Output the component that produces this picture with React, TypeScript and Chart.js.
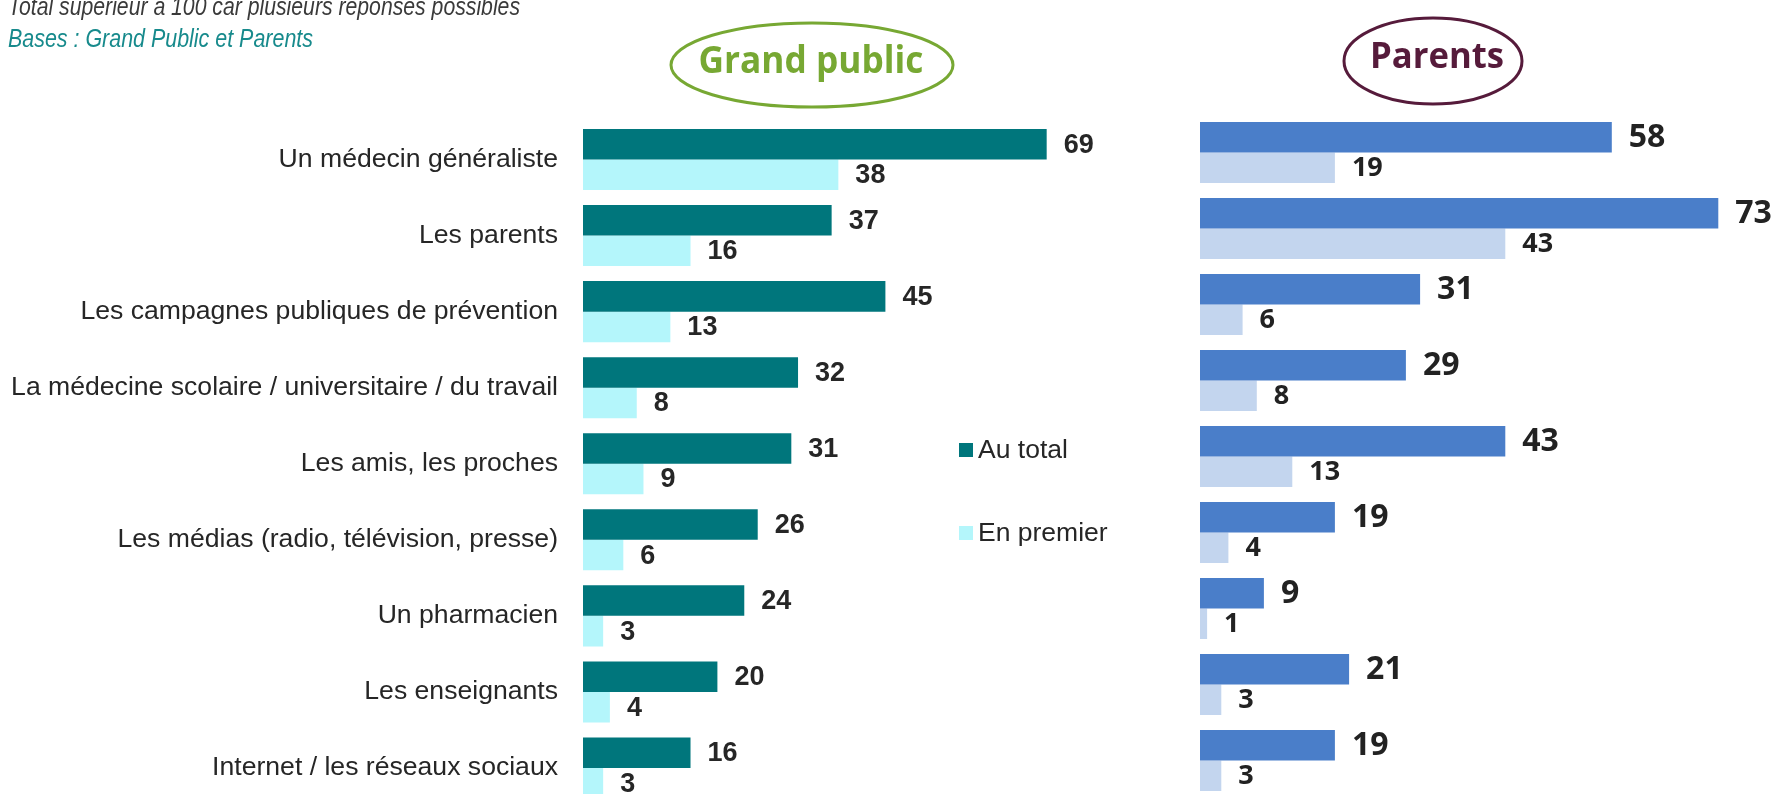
import { useEffect, useRef } from "react";
import { Chart, registerables } from "chart.js";

Chart.register(...registerables);

const categories = [
  "Un médecin généraliste",
  "Les parents",
  "Les campagnes publiques de prévention",
  "La médecine scolaire / universitaire / du travail",
  "Les amis, les proches",
  "Les médias (radio, télévision, presse)",
  "Un pharmacien",
  "Les enseignants",
  "Internet / les réseaux sociaux",
];
const seriesNames = ["Au total", "En premier"];
const grandPublicTotal = [69, 37, 45, 32, 31, 26, 24, 20, 16];
const grandPublicFirst = [38, 16, 13, 8, 9, 6, 3, 4, 3];
const parentsTotal = [58, 73, 31, 29, 43, 19, 9, 21, 19];
const parentsFirst = [19, 43, 6, 8, 13, 4, 1, 3, 3];
const noteText = "Total supérieur à 100 car plusieurs réponses possibles";
const baseText = "Bases : Grand Public et Parents";
const titleLeft = "Grand public";
const titleRight = "Parents";

const ARIAL = '"Liberation Sans", Arial, sans-serif';

function valueLabelPlugin(fonts: string[], color: string, offset: number) {
  return {
    id: "valueLabels",
    afterDatasetsDraw(chart: any) {
      const ctx = chart.ctx;
      ctx.save();
      chart.data.datasets.forEach((ds: any, i: number) => {
        const meta = chart.getDatasetMeta(i);
        meta.data.forEach((el: any, j: number) => {
          ctx.font = fonts[i];
          ctx.fillStyle = color;
          ctx.textAlign = "left";
          ctx.textBaseline = "middle";
          ctx.fillText(String(ds.data[j]), el.x + offset, el.y + 1);
        });
      });
      ctx.restore();
    },
  };
}

const legendPlugin = {
  id: "sideLegend",
  afterDraw(chart: any) {
    const ctx = chart.ctx;
    const rows = [450, 533];
    ctx.save();
    chart.data.datasets.forEach((ds: any, i: number) => {
      const y = rows[i];
      ctx.fillStyle = ds.backgroundColor;
      ctx.fillRect(959, y - 7, 14, 14);
      ctx.fillStyle = "#262626";
      ctx.font = `26.5px ${ARIAL}`;
      ctx.textAlign = "left";
      ctx.textBaseline = "middle";
      ctx.fillText(ds.label, 978, y + 1);
    });
    ctx.restore();
  },
};

export default function App() {
  const leftRef = useRef<HTMLCanvasElement>(null);
  const rightRef = useRef<HTMLCanvasElement>(null);

  useEffect(() => {
    const left = new Chart(leftRef.current as HTMLCanvasElement, {
      type: "bar",
      data: {
        labels: categories,
        datasets: [
          { label: seriesNames[0], data: grandPublicTotal, backgroundColor: "#00767c" },
          { label: seriesNames[1], data: grandPublicFirst, backgroundColor: "#b4f6fb" },
        ],
      },
      options: {
        indexAxis: "y",
        responsive: false,
        animation: false,
        layout: { padding: { top: 121.5, bottom: 0, left: 0, right: 39.4 } },
        datasets: { bar: { categoryPercentage: 0.803, barPercentage: 1.0 } },
        plugins: { legend: { display: false }, tooltip: { enabled: false } },
        scales: {
          x: { display: false, min: 0, max: 80 },
          y: {
            grid: { display: false, drawTicks: false },
            border: { display: false },
            ticks: {
              autoSkip: false,
              padding: 25,
              color: "#262626",
              font: { family: ARIAL, size: 26.6 },
            },
            afterFit: (s: any) => {
              s.width = 583;
              s.paddingTop = 0;
              s.paddingBottom = 0;
            },
          },
        },
      },
      plugins: [valueLabelPlugin([`bold 27px ${ARIAL}`, `bold 27px ${ARIAL}`], "#262626", 17), legendPlugin],
    } as any);

    const right = new Chart(rightRef.current as HTMLCanvasElement, {
      type: "bar",
      data: {
        labels: categories,
        datasets: [
          { label: seriesNames[0], data: parentsTotal, backgroundColor: "#4a7ec9" },
          { label: seriesNames[1], data: parentsFirst, backgroundColor: "#c3d5ee" },
        ],
      },
      options: {
        indexAxis: "y",
        responsive: false,
        animation: false,
        layout: { padding: { top: 114.5, bottom: 0.5, left: 10, right: 7 } },
        datasets: { bar: { categoryPercentage: 0.803, barPercentage: 1.0 } },
        plugins: { legend: { display: false }, tooltip: { enabled: false } },
        scales: {
          x: { display: false, min: 0, max: 80 },
          y: { display: false },
        },
      },
      plugins: [
        valueLabelPlugin(['bold 32px "Open Sans", sans-serif', 'bold 27px "Open Sans", sans-serif'], "#222222", 17),
      ],
    } as any);

    return () => {
      left.destroy();
      right.destroy();
    };
  }, []);

  return (
    <div
      style={{
        position: "fixed",
        left: 0,
        top: 0,
        width: "100vw",
        height: "100vh",
        overflow: "hidden",
        background: "#ffffff",
      }}
    >
      <canvas
        ref={leftRef}
        width={1160}
        height={806}
        style={{ position: "absolute", left: 0, top: 0, width: 1160, height: 806 }}
      />
      <canvas
        ref={rightRef}
        width={585}
        height={799}
        style={{ position: "absolute", left: 1190, top: 0, width: 585, height: 799 }}
      />
      <svg
        width={1775}
        height={794}
        style={{ position: "absolute", left: 0, top: 0, pointerEvents: "none" }}
      >
        <text
          x={8}
          y={15}
          fontFamily={ARIAL}
          fontStyle="italic"
          fontSize={25}
          fill="#3a3a3a"
          textLength={512}
          lengthAdjust="spacingAndGlyphs"
        >
          {noteText}
        </text>
        <text
          x={8}
          y={47}
          fontFamily={ARIAL}
          fontStyle="italic"
          fontSize={25}
          fill="#178a8c"
          textLength={305}
          lengthAdjust="spacingAndGlyphs"
        >
          {baseText}
        </text>
        <ellipse cx={812} cy={65} rx={141} ry={42} fill="none" stroke="#77a833" strokeWidth={3} />
        <text
          x={811}
          y={73}
          textAnchor="middle"
          fontFamily='"Open Sans", sans-serif'
          fontWeight={700}
          fontSize={38}
          fill="#77a833"
          textLength={225}
          lengthAdjust="spacingAndGlyphs"
        >
          {titleLeft}
        </text>
        <ellipse cx={1433} cy={61} rx={89} ry={43} fill="none" stroke="#561b3b" strokeWidth={3} />
        <text
          x={1437}
          y={68}
          textAnchor="middle"
          fontFamily='"Open Sans", sans-serif'
          fontWeight={700}
          fontSize={35}
          fill="#561b3b"
          textLength={134}
          lengthAdjust="spacingAndGlyphs"
        >
          {titleRight}
        </text>
      </svg>
    </div>
  );
}
